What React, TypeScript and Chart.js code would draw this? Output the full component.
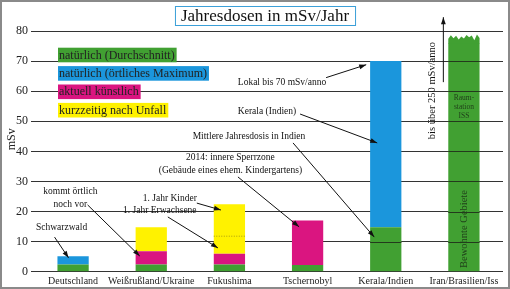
import React, { useEffect, useRef } from "react";
import { Chart, registerables } from "chart.js";

Chart.register(...registerables);

// ---------- data ----------
const categories = [
  "Deutschland",
  "Weißrußland/Ukraine",
  "Fukushima",
  "Tschernobyl",
  "Kerala/Indien",
  "Iran/Brasilien/Iss",
];
const naturalAverage = [2.4, 2.4, 2.4, 2.2, 14.8, 76];
const naturalLocalMax = [2.7, 0, 0, 0, 55.2, 0];
const artificialCurrent = [0, 4.4, 3.6, 14.8, 0, 0];
const shortTermAccident = [0, 8, 16.4, 0, 0, 0];
const seriesLabels = [
  "natürlich (Durchschnitt)",
  "natürlich (örtliches Maximum)",
  "aktuell künstlich",
  "kurzzeitig nach Unfall",
];
const seriesColors = ["#41a032", "#1b96dc", "#da1580", "#fff200"];
const yMin = 0;
const yMax = 80;
const yStep = 10;
const titleText = "Jahresdosen in mSv/Jahr";
const yAxisTitle = "mSv";
// Fukushima: children first-year level (dotted line inside the yellow bar)
const fukushimaChildrenLevel = 11.8;
// ISS bar ragged top (extra mSv above bar top)
const raggedTop = [1.4, 2.6, 1.6, 2.4, 1.2, 2.2, 1.5, 2.7, 1.9, 2.5, 0.9, 2.8, 1.7];

// annotations in data coordinates (x = category index, y = mSv)
const noteTexts = [
  ["Lokal bis 70 mSv/anno"],
  ["Kerala (Indien)"],
  ["Mittlere Jahresdosis in Indien"],
  ["2014: innere Sperrzone", "(Gebäude eines ehem. Kindergartens)"],
  ["1. Jahr Kinder"],
  ["1. Jahr Erwachsene"],
  ["kommt örtlich", "noch vor"],
  ["Schwarzwald"],
];
const noteAnchors = [
  [2.673, 63.0],
  [2.481, 53.1],
  [2.25, 45.1],
  [2.013, 37.8],
  [1.237, 24.2],
  [1.109, 20.2],
  [-0.035, 26.5],
  [-0.147, 14.7],
];
const noteArrows = [
  [3.237, 64.5, 3.75, 68.8],
  [2.904, 52.4, 3.891, 42.8],
  [2.814, 42.8, 3.853, 11.5],
  [2.109, 31.5, 2.891, 14.9],
  [1.583, 22.8, 1.891, 20.5],
  [1.212, 18.2, 1.853, 7.9],
  [0.186, 22.2, 0.853, 5.2],
  [-0.237, 11.5, -0.058, 4.6],
];
const upText = "bis über 250 mSv/anno";
const upTextAnchor = [4.596, 60.2];
const upArrow = [4.737, 63.0, 4.737, 84.6];
const issLines = ["Raum-", "station", "ISS"];
const issAnchor = [5, 57.8];
const inhabitedText = "Bewohnte Gebiete";
const inhabitedAnchor = [5, 14.2];

const SERIF = "'Liberation Serif', 'DejaVu Serif', serif";

function drawArrow(ctx: CanvasRenderingContext2D, x1: number, y1: number, x2: number, y2: number) {
  ctx.beginPath();
  ctx.moveTo(x1, y1);
  ctx.lineTo(x2, y2);
  ctx.stroke();
  const a = Math.atan2(y2 - y1, x2 - x1);
  const L = 7;
  const W = 2.4;
  const c = Math.cos(a);
  const s = Math.sin(a);
  ctx.beginPath();
  ctx.moveTo(x2, y2);
  ctx.lineTo(x2 - L * c + W * s, y2 - L * s - W * c);
  ctx.lineTo(x2 - L * c - W * s, y2 - L * s + W * c);
  ctx.closePath();
  ctx.fill();
}

const overlayPlugin = {
  id: "overlay",
  afterDatasetsDraw(chart: any) {
    const ctx: CanvasRenderingContext2D = chart.ctx;
    const ys = chart.scales.y;
    const Y = (v: number) => ys.getPixelForValue(v);

    // ragged top of ISS bar
    const issEl = chart.getDatasetMeta(0).data[categories.length - 1];
    if (issEl) {
      const p = issEl.getProps(["x", "y", "width"], true);
      const left = p.x - p.width / 2;
      const base = naturalAverage[categories.length - 1];
      ctx.save();
      ctx.fillStyle = seriesColors[0];
      ctx.beginPath();
      ctx.moveTo(left, p.y + 0.5);
      raggedTop.forEach((h, i) => {
        ctx.lineTo(left + (p.width * i) / (raggedTop.length - 1), Y(base + h));
      });
      ctx.lineTo(left + p.width, p.y + 0.5);
      ctx.closePath();
      ctx.fill();
      ctx.restore();
    }

    // grid lines show through the green (natural) bars
    const greenMeta = chart.getDatasetMeta(0);
    ctx.save();
    ctx.strokeStyle = "rgba(30,40,25,0.85)";
    ctx.lineWidth = 1;
    greenMeta.data.forEach((el: any, i: number) => {
      const p = el.getProps(["x", "width"], true);
      const top = naturalAverage[i];
      for (let v = yMin + yStep; v < top; v += yStep) {
        const py = Math.round(Y(v)) + 0.5;
        ctx.beginPath();
        ctx.moveTo(p.x - p.width / 2, py);
        ctx.lineTo(p.x + p.width / 2, py);
        ctx.stroke();
      }
    });
    ctx.restore();

    // Fukushima dotted line
    const fEl = chart.getDatasetMeta(3).data[2];
    if (fEl) {
      const p = fEl.getProps(["x", "width"], true);
      ctx.save();
      ctx.strokeStyle = "#a89a10";
      ctx.lineWidth = 1;
      ctx.setLineDash([1, 1.5]);
      ctx.beginPath();
      ctx.moveTo(p.x - p.width / 2, Y(fukushimaChildrenLevel));
      ctx.lineTo(p.x + p.width / 2, Y(fukushimaChildrenLevel));
      ctx.stroke();
      ctx.restore();
    }
  },
  afterDraw(chart: any) {
    const ctx: CanvasRenderingContext2D = chart.ctx;
    const area = chart.chartArea;
    const xs = chart.scales.x;
    const ys = chart.scales.y;
    const X = (v: number) => xs.getPixelForValue(0) + v * (xs.getPixelForValue(1) - xs.getPixelForValue(0));
    const Y = (v: number) => ys.getPixelForValue(v);

    ctx.save();
    // title
    ctx.font = `17px ${SERIF}`;
    ctx.textAlign = "center";
    ctx.textBaseline = "middle";
    const tw = ctx.measureText(titleText).width;
    const tcx = 265;
    ctx.fillStyle = "#ffffff";
    ctx.fillRect(tcx - tw / 2 - 6, 6.5, tw + 12, 19);
    ctx.strokeStyle = "#3a9fd8";
    ctx.lineWidth = 1;
    ctx.strokeRect(tcx - tw / 2 - 6 + 0.5, 6.5, tw + 12, 19);
    ctx.fillStyle = "#111";
    ctx.fillText(titleText, tcx, 17);

    // y axis title
    ctx.save();
    ctx.translate(12, Y(44));
    ctx.rotate(-Math.PI / 2);
    ctx.font = `12px ${SERIF}`;
    ctx.fillStyle = "#222";
    ctx.fillText(yAxisTitle, 0, 0);
    ctx.restore();

    // legend
    ctx.font = `12px ${SERIF}`;
    ctx.textAlign = "left";
    seriesLabels.forEach((lab, i) => {
      const cy = area.top + 24 + i * 18.4;
      const w = ctx.measureText(lab).width;
      ctx.fillStyle = seriesColors[i];
      ctx.fillRect(area.left + 24, cy - 7.3, w + 3, 14.6);
      ctx.fillStyle = "#222";
      ctx.fillText(lab, area.left + 25, cy + 0.5);
    });

    // annotations
    ctx.font = `9.5px ${SERIF}`;
    ctx.textAlign = "center";
    ctx.fillStyle = "#111";
    noteTexts.forEach((lines, i) => {
      const [ax, ay] = noteAnchors[i];
      lines.forEach((ln, j) => {
        ctx.fillText(ln, X(ax), Y(ay) + j * 12.5);
      });
    });
    ctx.strokeStyle = "#111";
    ctx.lineWidth = 1;
    noteArrows.forEach(([x1, y1, x2, y2]) => {
      drawArrow(ctx, X(x1), Y(y1), X(x2), Y(y2));
    });

    // vertical "bis über 250" text + arrow
    ctx.save();
    ctx.translate(X(upTextAnchor[0]), Y(upTextAnchor[1]));
    ctx.rotate(-Math.PI / 2);
    ctx.font = `10.5px ${SERIF}`;
    ctx.fillText(upText, 0, 0);
    ctx.restore();
    drawArrow(ctx, X(upArrow[0]), Y(upArrow[1]), X(upArrow[2]), Y(upArrow[3]));

    // ISS label
    ctx.font = `7.5px ${SERIF}`;
    ctx.fillStyle = "#20401a";
    issLines.forEach((ln, j) => {
      ctx.fillText(ln, X(issAnchor[0]), Y(issAnchor[1]) + j * 9);
    });
    ctx.save();
    ctx.translate(X(inhabitedAnchor[0]), Y(inhabitedAnchor[1]));
    ctx.rotate(-Math.PI / 2);
    ctx.font = `10.5px ${SERIF}`;
    ctx.fillStyle = "#20401a";
    ctx.fillText(inhabitedText, 0, 0);
    ctx.restore();

    // frame
    ctx.strokeStyle = "#8a8a8a";
    ctx.lineWidth = 2;
    ctx.setLineDash([]);
    ctx.strokeRect(1, 1, chart.width - 2, chart.height - 2);
    ctx.restore();
  },
};

export default function App() {
  const ref = useRef<HTMLCanvasElement | null>(null);

  useEffect(() => {
    document.body.style.margin = "0";
    if (!ref.current) return;
    const seriesData = [naturalAverage, naturalLocalMax, artificialCurrent, shortTermAccident];
    const chart = new Chart(ref.current, {
      type: "bar",
      data: {
        labels: categories,
        datasets: seriesData.map((d, i) => ({
          label: seriesLabels[i],
          data: d,
          backgroundColor: seriesColors[i],
          borderWidth: 0,
          barPercentage: 0.4,
          categoryPercentage: 1,
        })),
      },
      options: {
        responsive: false,
        animation: false,
        devicePixelRatio: 1,
        layout: { padding: { left: 0, right: 7, top: 31, bottom: 0 } },
        plugins: {
          legend: { display: false },
          title: { display: false },
          tooltip: { enabled: false },
        },
        scales: {
          x: {
            stacked: true,
            grid: { display: false, drawTicks: false },
            border: { display: false },
            ticks: {
              color: "#222",
              padding: 4,
              maxRotation: 0,
              autoSkip: false,
              font: { family: SERIF, size: 10 },
            },
            afterFit: (s: any) => {
              s.height = 17.3;
            },
          },
          y: {
            stacked: true,
            min: yMin,
            max: yMax,
            grid: { color: "#333", lineWidth: 1, tickLength: 3 },
            border: { display: false },
            ticks: {
              stepSize: yStep,
              color: "#222",
              padding: 3,
              font: { family: SERIF, size: 12 },
            },
            afterFit: (s: any) => {
              s.width = 34;
            },
          },
        },
      },
      plugins: [overlayPlugin],
    });
    return () => chart.destroy();
  }, []);

  return (
    <div style={{ width: 510, height: 289, background: "#fff" }}>
      <canvas ref={ref} width={510} height={289} style={{ display: "block" }} />
    </div>
  );
}
